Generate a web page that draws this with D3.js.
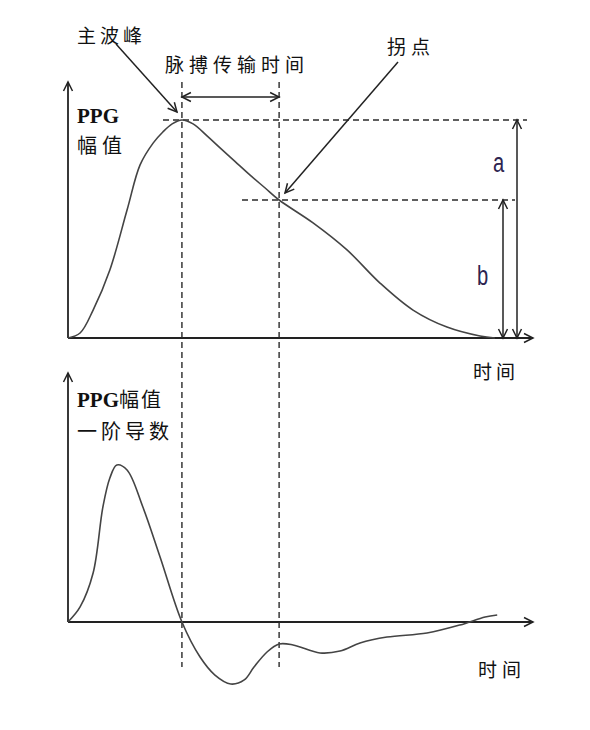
<!DOCTYPE html>
<html><head><meta charset="utf-8">
<script src="https://cdn.jsdelivr.net/npm/d3@7/dist/d3.min.js"></script>
<style>body{margin:0;background:#fff}svg{display:block}</style>
</head><body>
<script>
// ---- data (time normalised 0..100, amplitude normalised to peak = 1) ----
const ppgT   = [0, 2.6, 5.4, 9.0, 12.7, 15.5, 18.3, 20.4, 22.4, 24.5, 26.9, 29.9, 32.7, 35.9, 39.1, 42.4, 45.4, 52.7, 60.0, 67.1, 74.2, 81.5, 88.6, 91.8];
const ppgA   = [0, 0.023, 0.128, 0.312, 0.587, 0.794, 0.894, 0.945, 0.982, 1.0, 0.982, 0.927, 0.872, 0.810, 0.748, 0.688, 0.633, 0.528, 0.404, 0.252, 0.128, 0.050, 0.009, 0];
const derivT = [0, 2.6, 5.4, 7.5, 9.0, 10.5, 12.7, 16.1, 19.8, 24.5, 28.4, 31.6, 35.0, 37.9, 40.0, 42.8, 45.4, 48.4, 54.2, 58.5, 62.8, 68.6, 77.2, 84.3, 89.7, 92.3];
const derivA = [0, 0.096, 0.312, 0.732, 0.917, 1.0, 0.968, 0.732, 0.414, 0, -0.223, -0.338, -0.395, -0.369, -0.287, -0.191, -0.140, -0.146, -0.197, -0.185, -0.134, -0.096, -0.070, -0.019, 0.032, 0.045];
const peakT = 24.5, peakA = 1.0;          // 主波峰
const inflT = 45.4, inflA = 0.633;        // 拐点
const labels = {peak:"主波峰", ptt:"脉搏传输时间", infl:"拐点", time:"时间",
  ppg:"PPG", amp:"幅值", deriv:"一阶导数", a:"a", b:"b"};

const W = 590, H = 730;
const svg = d3.select("body").append("svg").attr("width", W).attr("height", H);

const x = d3.scaleLinear().domain([0, 100]).range([68, 533]);
const yTop = d3.scaleLinear().domain([0, 1]).range([338, 120]);
const yBot = d3.scaleLinear().domain([0, 1]).range([622, 465]);

const ink = "#222";
const cjk = "'Noto Sans CJK SC', sans-serif";

function arrowHead(g, x1, y1, x2, y2, len = 9, half = 4.5) {
  const a = Math.atan2(y2 - y1, x2 - x1);
  const bx = x2 - len * Math.cos(a), by = y2 - len * Math.sin(a);
  const px = -Math.sin(a) * half, py = Math.cos(a) * half;
  g.append("path").attr("d", `M${bx+px},${by+py}L${x2},${y2}L${bx-px},${by-py}`)
    .attr("fill", "none").attr("stroke", ink).attr("stroke-width", 1.5);
}
function arrow(x1, y1, x2, y2, both = false, w = 1.5) {
  const g = svg.append("g");
  g.append("line").attr("x1", x1).attr("y1", y1).attr("x2", x2).attr("y2", y2)
    .attr("stroke", ink).attr("stroke-width", w);
  arrowHead(g, x1, y1, x2, y2);
  if (both) arrowHead(g, x2, y2, x1, y1);
}
function dashed(x1, y1, x2, y2) {
  svg.append("line").attr("x1", x1).attr("y1", y1).attr("x2", x2).attr("y2", y2)
    .attr("stroke", "#2a2a2a").attr("stroke-width", 1.4).attr("stroke-dasharray", "6,4");
}

// axes
arrow(x(0), yTop(0), x(0), 82, false, 1.8);
arrow(x(0), yTop(0), x(100), yTop(0), false, 1.8);
arrow(x(0), yBot(0), x(0), 373, false, 1.8);
arrow(x(0), yBot(0), x(100), yBot(0), false, 1.8);

// dashed guides
dashed(x(peakT), 82, x(peakT), 667);
dashed(x(inflT), 82, x(inflT), 667);
dashed(163, yTop(peakA), 527, yTop(peakA));
dashed(242, yTop(inflA), 515, yTop(inflA));

// curves
const line = (ys) => d3.line().x(d => x(d[0])).y(d => ys(d[1])).curve(d3.curveCatmullRom.alpha(0.5));
svg.append("path").datum(d3.zip(ppgT, ppgA)).attr("d", line(yTop))
  .attr("fill", "none").attr("stroke", "#444").attr("stroke-width", 1.6);
svg.append("path").datum(d3.zip(derivT, derivA)).attr("d", line(yBot))
  .attr("fill", "none").attr("stroke", "#444").attr("stroke-width", 1.6);

// measurement arrows
arrow(x(peakT), 97, x(inflT), 97, true, 1.5);
arrow(517, yTop(peakA), 517, yTop(0), true, 1.5);
arrow(503, yTop(inflA), 503, yTop(0), true, 1.5);
arrow(116, 44, 177, 112, false, 1.5);
arrow(398, 62, 285, 193, false, 1.5);

// texts
function txt(s, xx, yy, size, opts = {}) {
  return svg.append("text").attr("x", xx).attr("y", yy).text(s)
    .attr("font-family", opts.family || cjk).attr("font-size", size)
    .attr("font-weight", opts.weight || "normal")
    .attr("letter-spacing", opts.ls || 0)
    .attr("fill", opts.fill || "#111");
}
function narrow(s, xx, yy) {
  svg.append("text").attr("transform", `translate(${xx},${yy}) scale(0.72,1)`).text(s)
    .attr("font-family", "'Liberation Sans', Arial, sans-serif").attr("font-size", 28)
    .attr("fill", "#2d2450");
}
txt(labels.peak, 77, 43, 19, {ls: 4});
txt(labels.ptt, 165, 72, 19, {ls: 5});
txt(labels.infl, 387, 54, 19, {ls: 5});
txt(labels.ppg, 77, 123, 21, {family: "'Liberation Serif', serif", weight: "bold"});
txt(labels.amp, 77, 153, 20, {ls: 5});
txt(labels.time, 473, 379, 19, {ls: 4});
narrow(labels.a, 493, 172);
narrow(labels.b, 477, 285);
const t2 = txt("", 77, 407, 21, {family: "'Liberation Serif', serif", weight: "bold"});
t2.append("tspan").text(labels.ppg);
t2.append("tspan").text(labels.amp).attr("font-family", cjk).attr("font-weight", "normal")
  .attr("font-size", 20).attr("letter-spacing", 2);
txt(labels.deriv, 77, 439, 20, {ls: 4});
txt(labels.time, 478, 677, 19, {ls: 5});
</script>
</body></html>
